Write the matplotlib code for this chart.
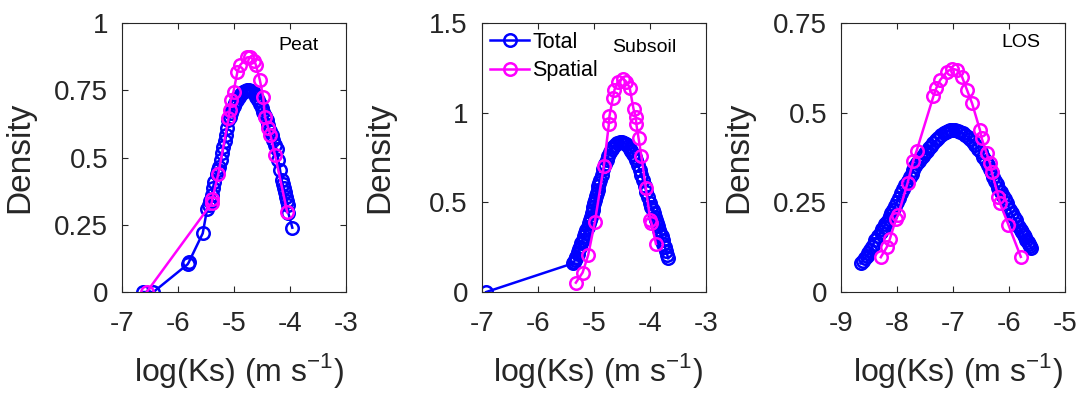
import matplotlib
matplotlib.use("Agg")
import matplotlib.pyplot as plt

plt.rcParams['font.family'] = ['Liberation Sans', 'DejaVu Sans']
plt.rcParams['axes.unicode_minus'] = False
plt.rcParams['mathtext.fontset'] = 'custom'
plt.rcParams['mathtext.rm'] = 'Liberation Sans'

# Peat
peat_total_x = [-6.62, -6.44, -5.83, -5.81, -5.56, -5.48, -5.45, -5.43, -5.40, -5.38, -5.35, -5.31,
                -5.29, -5.27, -5.24, -5.21, -5.19, -5.16, -5.14, -5.12, -5.10, -5.07, -5.05, -5.03,
                -5.01, -4.98, -4.95, -4.91, -4.88, -4.84, -4.81, -4.77, -4.74, -4.70, -4.67, -4.63,
                -4.60, -4.57, -4.54, -4.51, -4.48, -4.45, -4.42, -4.39, -4.36, -4.33, -4.30, -4.27,
                -4.24, -4.21, -4.18, -4.15, -4.13, -4.11, -4.09, -4.07, -4.06, -4.04, -4.03, -3.96]
peat_total_y = [0.0, 0.0, 0.103, 0.11, 0.218, 0.31, 0.325, 0.34, 0.36, 0.386, 0.41, 0.44,
                0.452, 0.465, 0.49, 0.515, 0.54, 0.562, 0.584, 0.61, 0.64, 0.652, 0.665, 0.678,
                0.69, 0.703, 0.715, 0.725, 0.735, 0.742, 0.748, 0.75, 0.751, 0.749, 0.745, 0.735,
                0.725, 0.712, 0.70, 0.685, 0.67, 0.655, 0.64, 0.62, 0.60, 0.583, 0.565, 0.548,
                0.53, 0.49, 0.455, 0.416, 0.40, 0.385, 0.37, 0.354, 0.34, 0.325, 0.293, 0.239]
peat_spatial_x = [-6.56, -5.40, -5.39, -5.28, -5.10, -5.08, -5.06, -5.01, -4.94, -4.89, -4.77, -4.71,
                  -4.64, -4.61, -4.54, -4.48, -4.45, -4.39, -4.35, -4.27, -4.05]
peat_spatial_y = [0.0, 0.33, 0.345, 0.44, 0.645, 0.676, 0.714, 0.745, 0.819, 0.844, 0.872, 0.873,
                  0.86, 0.844, 0.788, 0.726, 0.652, 0.61, 0.584, 0.51, 0.296]

# Subsoil
sub_total_x = [-6.92, -5.37, -5.35, -5.34, -5.32, -5.31, -5.29, -5.28, -5.26, -5.25, -5.22, -5.20,
               -5.18, -5.16, -5.13, -5.11, -5.09, -5.07, -5.05, -5.04, -5.02, -5.01, -4.99, -4.98,
               -4.96, -4.95, -4.93, -4.92, -4.90, -4.89, -4.86, -4.83, -4.80, -4.77, -4.74, -4.71,
               -4.68, -4.66, -4.62, -4.58, -4.54, -4.49, -4.46, -4.42, -4.39, -4.36, -4.33, -4.30,
               -4.27, -4.24, -4.21, -4.18, -4.15, -4.12, -4.09, -4.06, -4.03, -4.00, -3.97, -3.95,
               -3.93, -3.91, -3.89, -3.87, -3.85, -3.83, -3.81, -3.79, -3.77, -3.76, -3.73, -3.71,
               -3.69, -3.67]
sub_total_y = [0.0, 0.160, 0.169, 0.178, 0.188, 0.197, 0.211, 0.225, 0.239, 0.253, 0.272, 0.29,
               0.31, 0.327, 0.346, 0.365, 0.383, 0.40, 0.42, 0.44, 0.458, 0.476, 0.496, 0.515,
               0.533, 0.55, 0.57, 0.59, 0.608, 0.625, 0.655, 0.685, 0.712, 0.736, 0.758, 0.778,
               0.795, 0.81, 0.822, 0.832, 0.837, 0.838, 0.833, 0.825, 0.813, 0.80, 0.786, 0.77,
               0.754, 0.736, 0.708, 0.68, 0.652, 0.625, 0.592, 0.56, 0.528, 0.495, 0.475, 0.455,
               0.438, 0.42, 0.402, 0.385, 0.366, 0.346, 0.328, 0.31, 0.29, 0.27, 0.25, 0.23,
               0.209, 0.188]
sub_spatial_x = [-5.32, -5.20, -5.10, -4.98, -4.82, -4.73, -4.72, -4.66, -4.63, -4.57, -4.48, -4.42,
                 -4.36, -4.29, -4.25, -4.24, -4.20, -4.15, -4.07, -3.99, -3.97, -3.89]
sub_spatial_y = [0.052, 0.108, 0.206, 0.392, 0.704, 0.937, 0.981, 1.08, 1.127, 1.173, 1.19, 1.173,
                 1.14, 1.02, 0.978, 0.937, 0.857, 0.758, 0.578, 0.40, 0.385, 0.268]

# LOS
los_total_x = [-8.65, -8.61, -8.58, -8.54, -8.51, -8.48, -8.45, -8.42, -8.39, -8.34, -8.29, -8.26,
               -8.24, -8.21, -8.18, -8.15, -8.12, -8.10, -8.07, -8.03, -8.00, -7.96, -7.93, -7.89,
               -7.85, -7.81, -7.77, -7.74, -7.71, -7.68, -7.65, -7.61, -7.58, -7.54, -7.50, -7.46,
               -7.43, -7.39, -7.35, -7.30, -7.26, -7.21, -7.17, -7.13, -7.09, -7.05, -7.01, -6.96,
               -6.92, -6.87, -6.82, -6.78, -6.73, -6.69, -6.64, -6.60, -6.55, -6.50, -6.46, -6.42,
               -6.38, -6.34, -6.31, -6.28, -6.25, -6.22, -6.19, -6.15, -6.11, -6.07, -6.04, -6.01,
               -5.98, -5.95, -5.92, -5.88, -5.85, -5.82, -5.79, -5.76, -5.74, -5.71, -5.69, -5.66,
               -5.64, -5.62, -5.60]
los_total_y = [0.080, 0.087, 0.094, 0.101, 0.108, 0.117, 0.126, 0.135, 0.145, 0.157, 0.168, 0.175,
               0.182, 0.189, 0.196, 0.204, 0.212, 0.22, 0.229, 0.24, 0.252, 0.263, 0.275, 0.287,
               0.298, 0.31, 0.321, 0.33, 0.34, 0.35, 0.359, 0.366, 0.373, 0.38, 0.387, 0.394,
               0.401, 0.408, 0.415, 0.423, 0.43, 0.437, 0.444, 0.447, 0.449, 0.451, 0.452, 0.451,
               0.449, 0.446, 0.442, 0.437, 0.432, 0.426, 0.419, 0.41, 0.40, 0.389, 0.377, 0.365,
               0.354, 0.342, 0.331, 0.32, 0.31, 0.3, 0.289, 0.278, 0.268, 0.258, 0.247, 0.238,
               0.228, 0.219, 0.21, 0.2, 0.19, 0.182, 0.173, 0.166, 0.159, 0.152, 0.145, 0.139,
               0.133, 0.127, 0.122]
los_spatial_x = [-8.29, -8.18, -8.13, -8.02, -7.98, -7.81, -7.71, -7.65, -7.35, -7.30, -7.23, -7.11,
                 -7.02, -6.93, -6.84, -6.75, -6.66, -6.52, -6.49, -6.40, -6.34, -6.31, -6.19, -6.16,
                 -6.01, -5.79]
los_spatial_y = [0.097, 0.126, 0.147, 0.203, 0.215, 0.305, 0.366, 0.394, 0.546, 0.568, 0.591, 0.614,
                 0.623, 0.619, 0.60, 0.563, 0.526, 0.452, 0.429, 0.387, 0.359, 0.335, 0.266, 0.247,
                 0.187, 0.098]

panels = [
    ("Peat", peat_total_x, peat_total_y, peat_spatial_x, peat_spatial_y,
     [-7, -6, -5, -4, -3], [0, 0.25, 0.5, 0.75, 1], ["0", "0.25", "0.5", "0.75", "1"]),
    ("Subsoil", sub_total_x, sub_total_y, sub_spatial_x, sub_spatial_y,
     [-7, -6, -5, -4, -3], [0, 0.5, 1, 1.5], ["0", "0.5", "1", "1.5"]),
    ("LOS", los_total_x, los_total_y, los_spatial_x, los_spatial_y,
     [-9, -8, -7, -6, -5], [0, 0.25, 0.5, 0.75], ["0", "0.25", "0.5", "0.75"]),
]

txtcol = '#262626'
lefts = [0.112, 0.442, 0.7716]
label_pos = [(0.786, 0.918), (0.725, 0.908), (0.804, 0.929)]

fig = plt.figure(figsize=(10.9, 4.0), dpi=100)

for i, (name, tx, ty, sx, sy, xt, yt, ytl) in enumerate(panels):
    ax = fig.add_axes([lefts[i], 0.27, 0.2055, 0.6725])
    ax.plot(tx, ty, '-o', color=(0, 0, 1), lw=1.8, ms=9, mfc='none', mew=1.8, label='Total')
    ax.plot(sx, sy, '-o', color=(1, 0, 1), lw=1.8, ms=9, mfc='none', mew=1.8, label='Spatial')
    ax.set_xlim(xt[0], xt[-1])
    ax.set_ylim(yt[0], yt[-1])
    ax.set_xticks(xt)
    ax.set_xticklabels([str(v) for v in xt])
    ax.set_yticks(yt)
    ax.set_yticklabels(ytl)
    ax.tick_params(direction='in', length=4, width=0.8, top=True, right=True,
                   labelsize=20, colors=txtcol, labelcolor=txtcol)
    ax.tick_params(axis='x', pad=14)
    ax.tick_params(axis='y', pad=10)
    for s in ax.spines.values():
        s.set_color(txtcol)
        s.set_linewidth(0.8)
    ax.set_ylabel('Density', fontsize=24, color=txtcol)
    ax.yaxis.label.set_va('center')
    ax.yaxis.set_label_coords(-0.455, 0.5)
    ax.set_xlabel(r'log(Ks) (m s$^{\mathregular{-1}}$)', fontsize=23, color=txtcol)
    ax.xaxis.label.set_va('center')
    ax.xaxis.set_label_coords(0.52, -0.29)
    ax.text(label_pos[i][0], label_pos[i][1], name, transform=ax.transAxes,
            fontsize=14, ha='center', va='center', color='black')
    if i == 1:
        ax.legend(loc='upper left', frameon=False, fontsize=15.5, handlelength=1.8,
                  handletextpad=0.15, borderaxespad=0.15, labelspacing=0.35, borderpad=0.25)

fig.savefig('out.png', dpi=100)
